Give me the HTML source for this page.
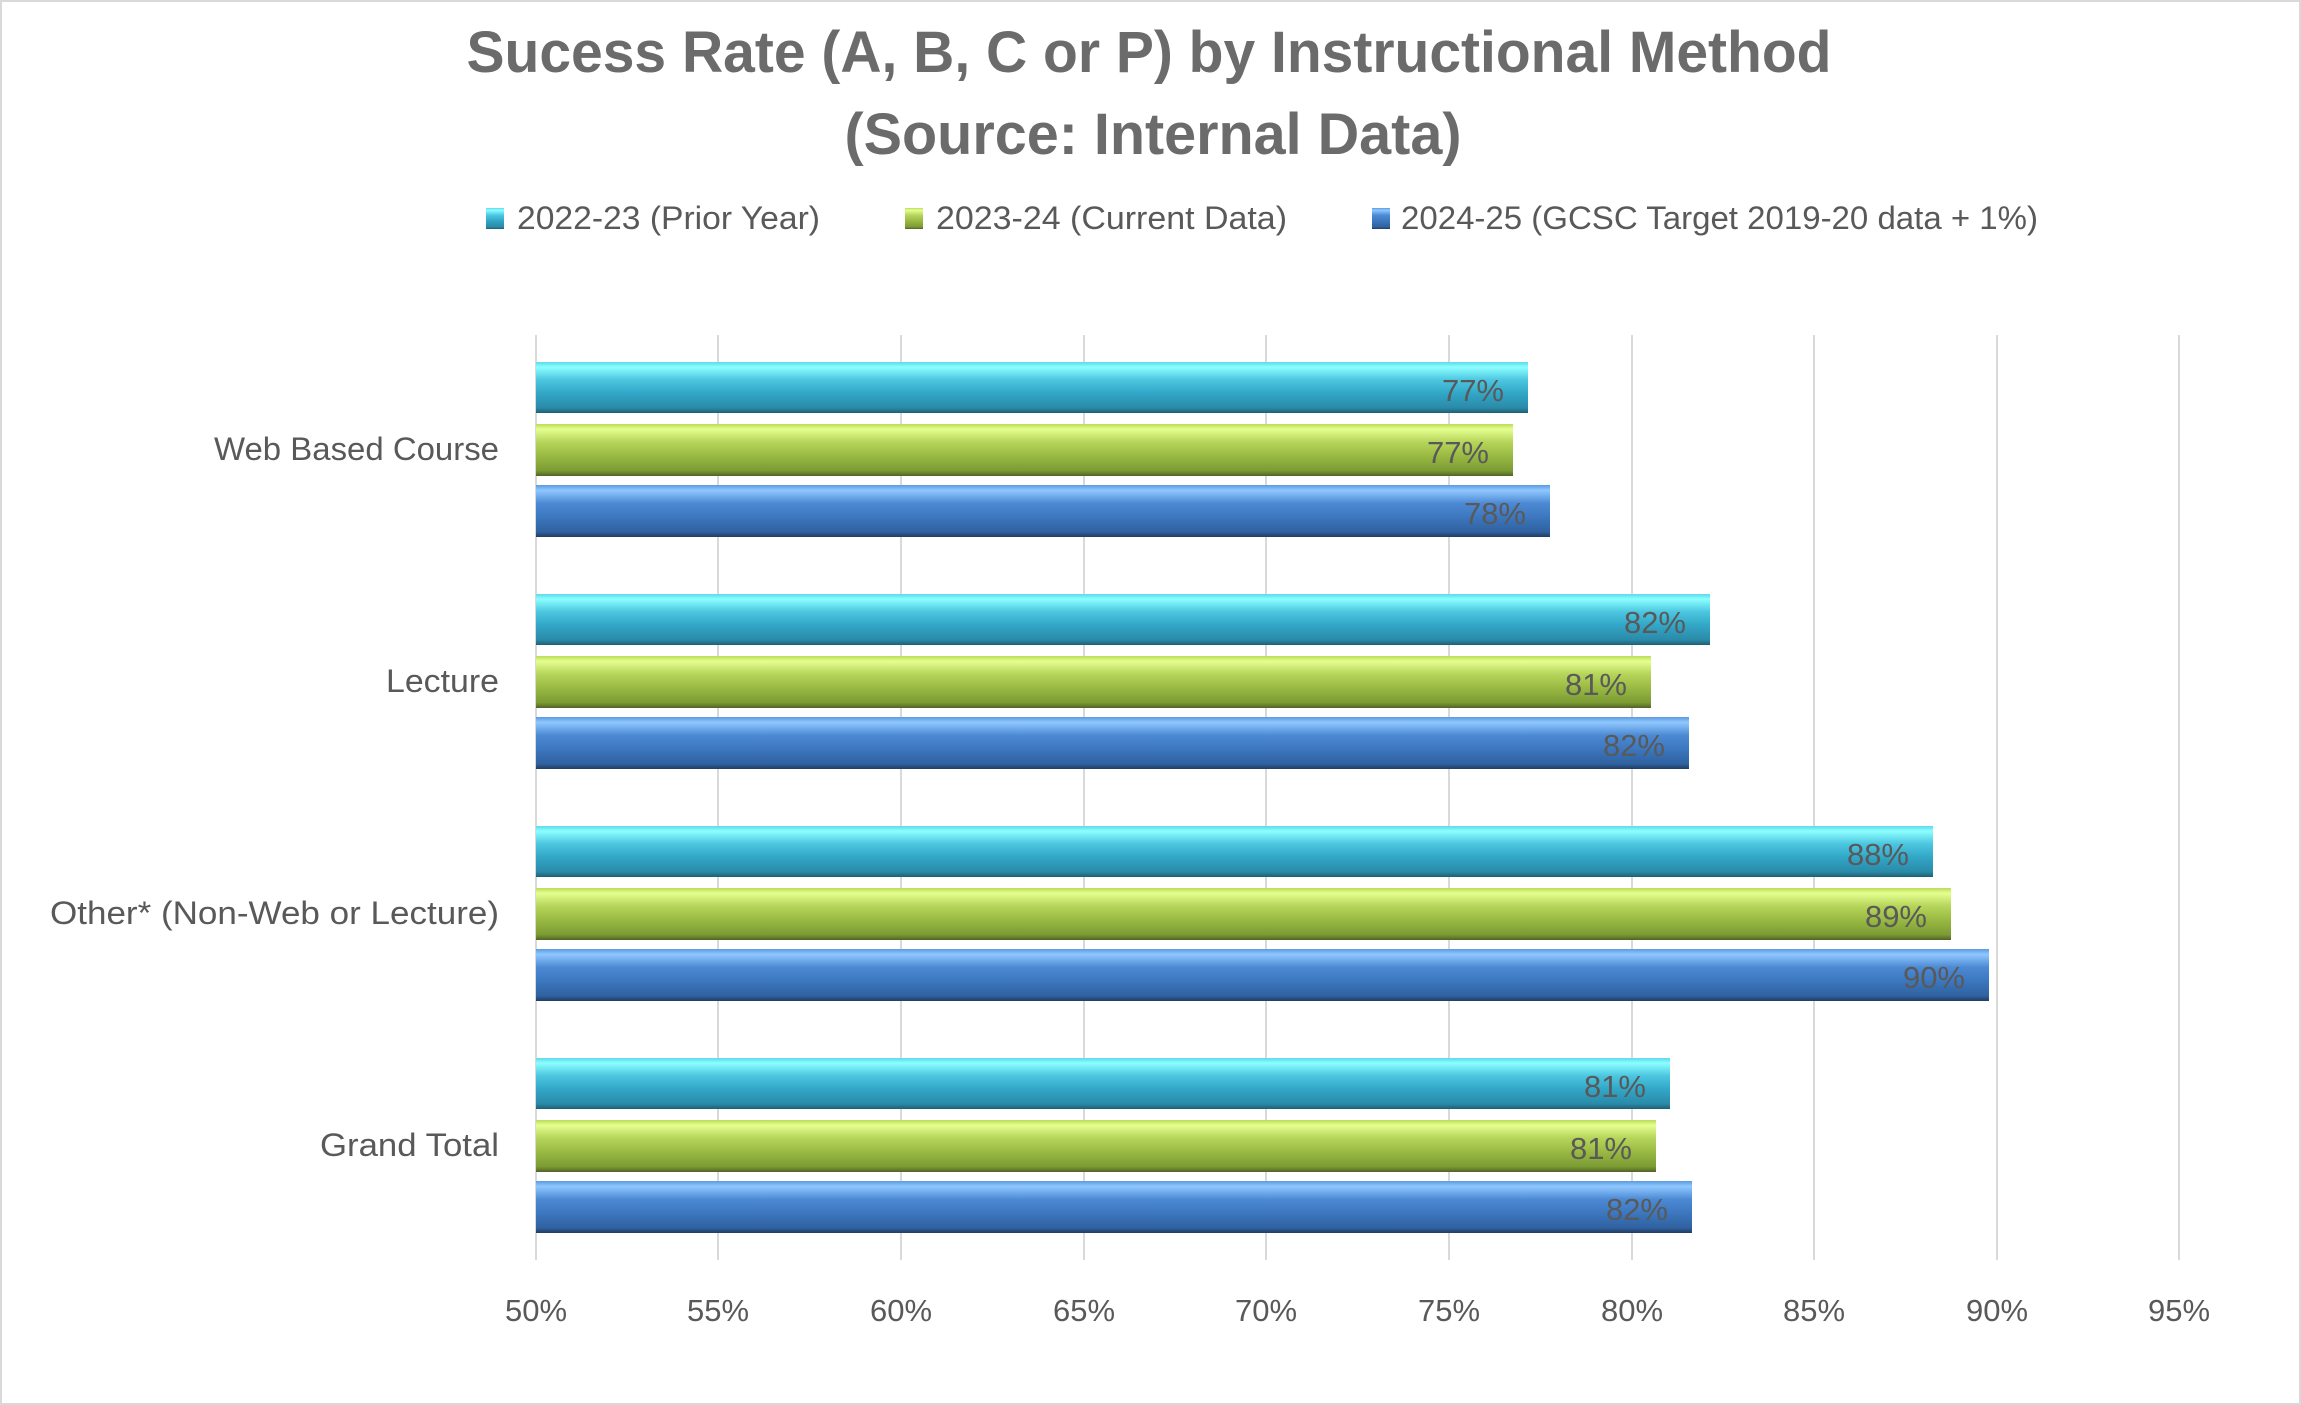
<!DOCTYPE html>
<html><head><meta charset="utf-8"><style>
html,body{margin:0;padding:0;background:#fff}
svg{display:block}
text{font-family:"Liberation Sans",sans-serif;fill:#595959}
</style></head><body>
<svg width="2301" height="1405" viewBox="0 0 2301 1405" xmlns="http://www.w3.org/2000/svg">
<defs>
<linearGradient id="gc" x1="0" y1="0" x2="0" y2="1">
<stop offset="0" stop-color="#5fd8ee"/><stop offset="0.1" stop-color="#8cffff"/><stop offset="0.35" stop-color="#4cc6e0"/><stop offset="0.6" stop-color="#33a8c8"/><stop offset="0.9" stop-color="#2a8aa8"/><stop offset="1" stop-color="#1f5f70"/></linearGradient>
<linearGradient id="gg" x1="0" y1="0" x2="0" y2="1">
<stop offset="0" stop-color="#b8dc58"/><stop offset="0.1" stop-color="#e6ff90"/><stop offset="0.35" stop-color="#b5d45a"/><stop offset="0.6" stop-color="#9bbb44"/><stop offset="0.9" stop-color="#7c9a34"/><stop offset="1" stop-color="#4f6324"/></linearGradient>
<linearGradient id="gb" x1="0" y1="0" x2="0" y2="1">
<stop offset="0" stop-color="#5a9ae0"/><stop offset="0.1" stop-color="#90c8ff"/><stop offset="0.35" stop-color="#4d8ad4"/><stop offset="0.6" stop-color="#3d78c0"/><stop offset="0.9" stop-color="#2f62a0"/><stop offset="1" stop-color="#223c60"/></linearGradient>
</defs>
<rect x="1" y="1" width="2299" height="1403" fill="#fff" stroke="#d9d9d9" stroke-width="2"/>
<text x="1149" y="72" font-size="58" font-weight="bold" text-anchor="middle" textLength="1365" lengthAdjust="spacingAndGlyphs" style="fill:#6b6b6b">Sucess Rate (A, B, C or P) by Instructional Method</text>
<text x="1153" y="154" font-size="58" font-weight="bold" text-anchor="middle" textLength="617" lengthAdjust="spacingAndGlyphs" style="fill:#6b6b6b">(Source: Internal Data)</text>
<g font-size="32">
<rect x="486" y="208" width="18" height="21" fill="url(#gc)"/>
<text x="517" y="229" textLength="303" lengthAdjust="spacingAndGlyphs">2022-23 (Prior Year)</text>
<rect x="905" y="208" width="18" height="21" fill="url(#gg)"/>
<text x="936" y="229" textLength="351" lengthAdjust="spacingAndGlyphs">2023-24 (Current Data)</text>
<rect x="1372" y="208" width="18" height="21" fill="url(#gb)"/>
<text x="1401" y="229" textLength="637" lengthAdjust="spacingAndGlyphs">2024-25 (GCSC Target 2019-20 data + 1%)</text>
</g>
<g stroke="#d9d9d9" stroke-width="2">
<line x1="536" y1="335" x2="536" y2="1260"/><line x1="718" y1="335" x2="718" y2="1260"/><line x1="901" y1="335" x2="901" y2="1260"/><line x1="1084" y1="335" x2="1084" y2="1260"/><line x1="1266" y1="335" x2="1266" y2="1260"/><line x1="1449" y1="335" x2="1449" y2="1260"/><line x1="1632" y1="335" x2="1632" y2="1260"/><line x1="1814" y1="335" x2="1814" y2="1260"/><line x1="1997" y1="335" x2="1997" y2="1260"/><line x1="2179" y1="335" x2="2179" y2="1260"/>
</g>
<g font-size="31" text-anchor="middle">
<text x="536" y="1321">50%</text><text x="718" y="1321">55%</text><text x="901" y="1321">60%</text><text x="1084" y="1321">65%</text><text x="1266" y="1321">70%</text><text x="1449" y="1321">75%</text><text x="1632" y="1321">80%</text><text x="1814" y="1321">85%</text><text x="1997" y="1321">90%</text><text x="2179" y="1321">95%</text>
</g>
<g font-size="32">
<text x="214" y="460" textLength="285" lengthAdjust="spacingAndGlyphs">Web Based Course</text>
<text x="386" y="692" textLength="113" lengthAdjust="spacingAndGlyphs">Lecture</text>
<text x="50" y="924" textLength="449" lengthAdjust="spacingAndGlyphs">Other* (Non-Web or Lecture)</text>
<text x="320" y="1156" textLength="179" lengthAdjust="spacingAndGlyphs">Grand Total</text>
</g>
<g>
<rect x="536" y="362" width="992" height="51" fill="url(#gc)"/>
<rect x="536" y="424" width="977" height="52" fill="url(#gg)"/>
<rect x="536" y="485" width="1014" height="52" fill="url(#gb)"/>
<rect x="536" y="594" width="1174" height="51" fill="url(#gc)"/>
<rect x="536" y="656" width="1115" height="52" fill="url(#gg)"/>
<rect x="536" y="717" width="1153" height="52" fill="url(#gb)"/>
<rect x="536" y="826" width="1397" height="51" fill="url(#gc)"/>
<rect x="536" y="888" width="1415" height="52" fill="url(#gg)"/>
<rect x="536" y="949" width="1453" height="52" fill="url(#gb)"/>
<rect x="536" y="1058" width="1134" height="51" fill="url(#gc)"/>
<rect x="536" y="1120" width="1120" height="52" fill="url(#gg)"/>
<rect x="536" y="1181" width="1156" height="52" fill="url(#gb)"/>
</g>
<g font-size="31" text-anchor="end" style="fill:#555">
<text x="1504" y="401">77%</text><text x="1489" y="463">77%</text><text x="1526" y="524">78%</text>
<text x="1686" y="633">82%</text><text x="1627" y="695">81%</text><text x="1665" y="756">82%</text>
<text x="1909" y="865">88%</text><text x="1927" y="927">89%</text><text x="1965" y="988">90%</text>
<text x="1646" y="1097">81%</text><text x="1632" y="1159">81%</text><text x="1668" y="1220">82%</text>
</g>
</svg>
</body></html>
